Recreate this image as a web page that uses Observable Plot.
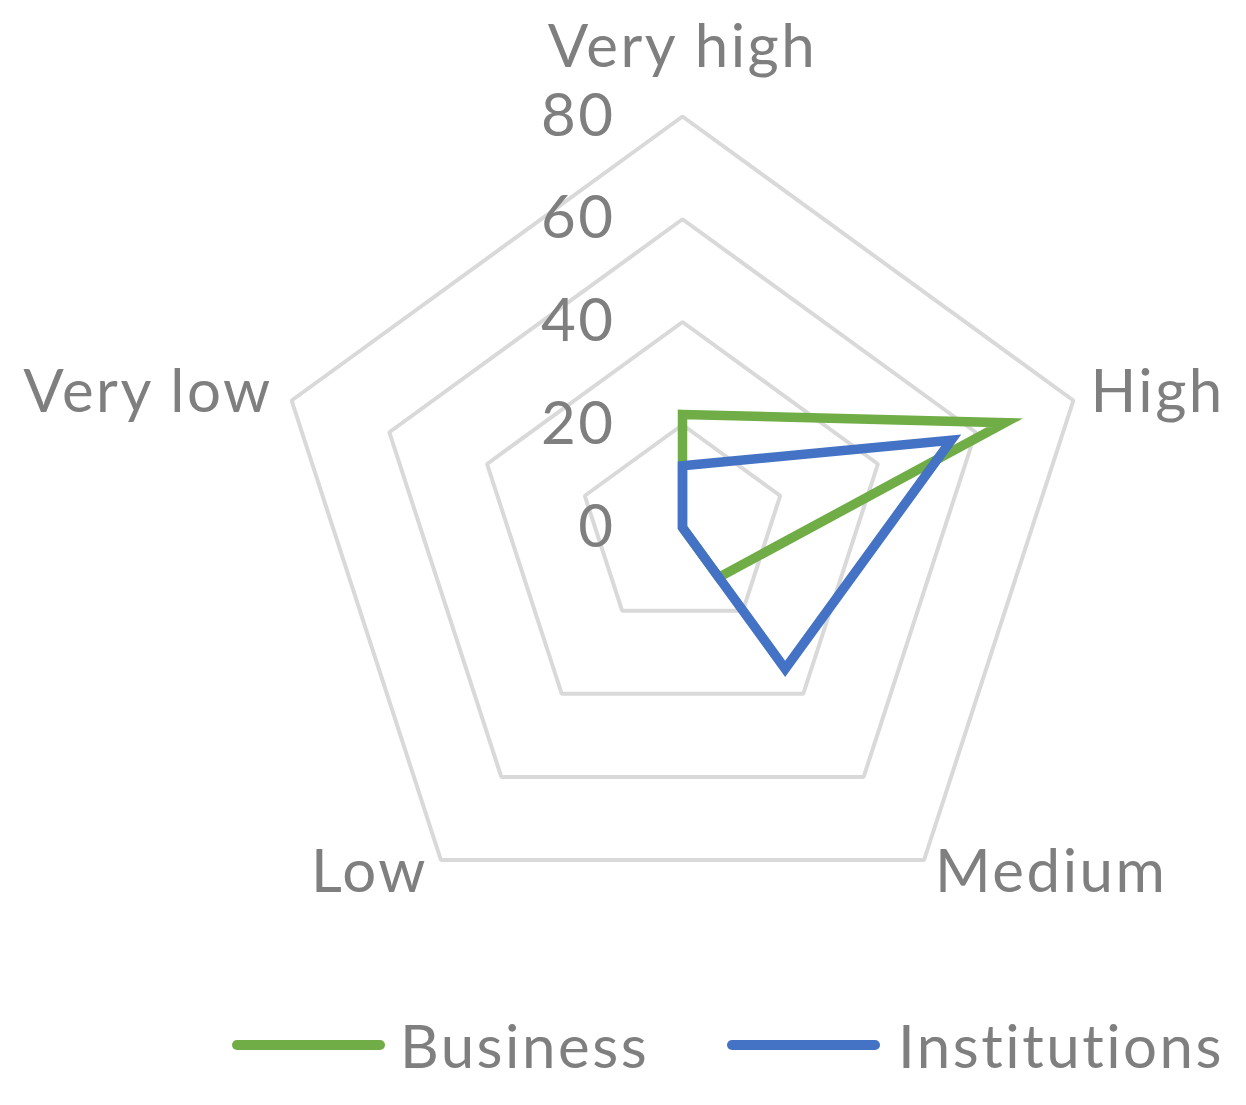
<!DOCTYPE html>
<html>
<head>
<meta charset="utf-8">
<script src="https://cdn.jsdelivr.net/npm/d3@7"></script>
<script src="https://cdn.jsdelivr.net/npm/@observablehq/plot@0.6"></script>
<style>
  html, body { margin: 0; padding: 0; background: #fff; }
  #wrap { position: relative; width: 1246px; height: 1105px; overflow: hidden; font-family: Lato, "Open Sans", sans-serif; }
  #legend { position: absolute; left: 0; top: 1010px; width: 1246px; height: 70px; }
  .sw { position: absolute; top: 30px; width: 153px; height: 10px; border-radius: 5px; }
  .lab { position: absolute; top: 0; font-size: 60px; color: #7f7f7f; line-height: 70px; letter-spacing: 2.5px; white-space: nowrap; }
</style>
</head>
<body>
<div id="wrap">
  <div id="chart"></div>
  <div id="legend"></div>
</div>
<script>
const categories = ["Very high", "High", "Medium", "Low", "Very low"];
const business = [22, 66, 12, 0, 0];
const institutions = [12, 55, 34, 0, 0];
const seriesNames = ["Business", "Institutions"];
const seriesColors = ["#70AD47", "#4472C4"];
const ticks = [0, 20, 40, 60, 80];

const W = 1246, H = 990;
const k = 411 / 80;          // px per unit
const cx = 682, cy = 527;    // center in px

const angle = (i) => (i * 2 * Math.PI) / categories.length;
const px = (v, i) => v * Math.sin(angle(i));
const py = (v, i) => v * Math.cos(angle(i));

const rows = [];
[business, institutions].forEach((vals, s) => {
  vals.forEach((v, i) => rows.push({ series: seriesNames[s], cat: categories[i], i, v }));
});

const grid = [];
ticks.filter((t) => t > 0).forEach((t) => {
  categories.forEach((c, i) => grid.push({ t, i }));
});

const outer = d3.max(ticks);
const labelRows = categories.map((c, i) => ({ c, i }));
const labelStyle = {
  "Very high": { dx: 0, dy: -69, textAnchor: "middle" },
  "High": { dx: 17, dy: -8, textAnchor: "start" },
  "Medium": { dx: 11, dy: 13, textAnchor: "start" },
  "Low": { dx: -13, dy: 13, textAnchor: "end" },
  "Very low": { dx: -19, dy: -8, textAnchor: "end" }
};
const labelMarks = categories.map((c) =>
  Plot.text(labelRows.filter((d) => d.c === c), {
    x: (d) => px(outer, d.i),
    y: (d) => py(outer, d.i),
    text: "c",
    dx: labelStyle[c].dx,
    dy: labelStyle[c].dy,
    textAnchor: labelStyle[c].textAnchor,
    fontSize: 60,
    fill: "#7f7f7f"
  })
);

const chart = Plot.plot({
  width: W,
  height: H,
  margin: 0,
  style: { fontFamily: "Lato, 'Open Sans', sans-serif", background: "#fff", letterSpacing: "2.5px" },
  x: { domain: [-cx / k, (W - cx) / k], axis: null },
  y: { domain: [-(H - cy) / k, cy / k], axis: null },
  color: { domain: seriesNames, range: seriesColors },
  marks: [
    Plot.line(grid, {
      x: (d) => px(d.t, d.i),
      y: (d) => py(d.t, d.i),
      z: "t",
      curve: "linear-closed",
      stroke: "#d9d9d9",
      strokeWidth: 4,
      strokeLinejoin: "miter"
    }),
    Plot.text(ticks, {
      x: () => 0,
      y: (d) => d,
      text: (d) => String(d),
      dx: -67,
      textAnchor: "end",
      fontSize: 60,
      fill: "#7f7f7f"
    }),
    ...labelMarks,
    Plot.line(rows, {
      x: (d) => px(d.v, d.i),
      y: (d) => py(d.v, d.i),
      z: "series",
      stroke: "series",
      curve: "linear-closed",
      strokeWidth: 9.5,
      strokeLinejoin: "miter",
      strokeMiterlimit: 4
    })
  ]
});
document.getElementById("chart").appendChild(chart);

const legend = document.getElementById("legend");
const swLeft = [232, 727];
const labLeft = [400, 898];
seriesNames.forEach((name, s) => {
  const sw = document.createElement("div");
  sw.className = "sw";
  sw.style.background = seriesColors[s];
  sw.style.left = swLeft[s] + "px";
  const lab = document.createElement("span");
  lab.className = "lab";
  lab.style.left = labLeft[s] + "px";
  lab.textContent = name;
  legend.appendChild(sw);
  legend.appendChild(lab);
});
</script>
</body>
</html>
